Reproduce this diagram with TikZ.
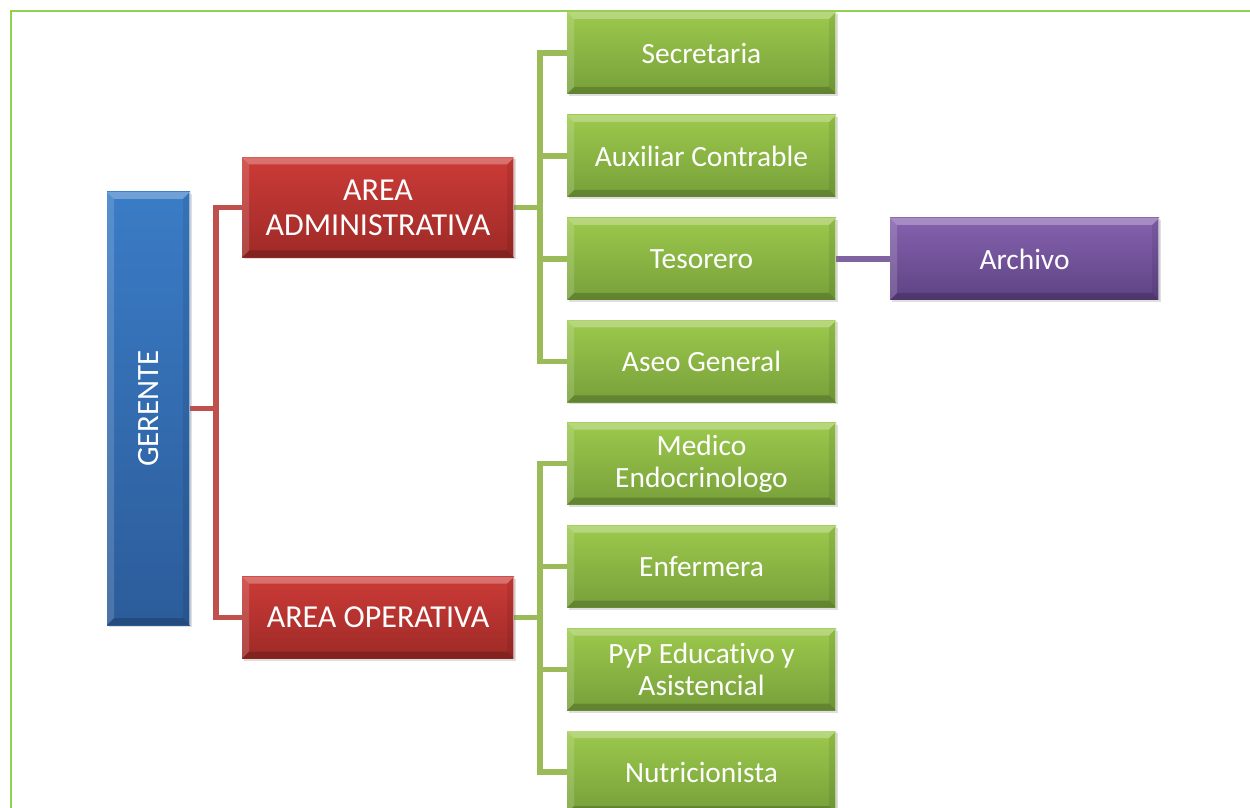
\documentclass[tikz,border=0pt]{standalone}
\usepackage{fontspec}
\setmainfont{Carlito}[Ligatures=NoCommon]
\usetikzlibrary{shadows,backgrounds}
\definecolor{gblue}{HTML}{3A7CC6}
\definecolor{gblueD}{HTML}{2C5C9A}
\definecolor{gred}{HTML}{CC3B37}
\definecolor{gredD}{HTML}{9E2A27}
\definecolor{ggreen}{HTML}{9CC94C}
\definecolor{ggreenD}{HTML}{77A03A}
\definecolor{gpurp}{HTML}{8562AE}
\definecolor{gpurpD}{HTML}{5E4384}
\definecolor{lred}{HTML}{C0504D}
\definecolor{lgreen}{HTML}{9BBB59}
\definecolor{lpurp}{HTML}{8064A2}
\definecolor{frame}{HTML}{92D050}
\tikzset{
  bevel/.style={path picture={
    \fill[white,opacity=0.28] (path picture bounding box.north west) -- (path picture bounding box.north east)
      -- ([xshift=-3.5pt,yshift=-3.5pt]path picture bounding box.north east) -- ([xshift=3.5pt,yshift=-3.5pt]path picture bounding box.north west) -- cycle;
    \fill[white,opacity=0.15] (path picture bounding box.north west) -- ([xshift=3.5pt,yshift=-3.5pt]path picture bounding box.north west)
      -- ([xshift=3.5pt,yshift=3.5pt]path picture bounding box.south west) -- (path picture bounding box.south west) -- cycle;
    \fill[black,opacity=0.18] (path picture bounding box.south west) -- (path picture bounding box.south east)
      -- ([xshift=-3.5pt,yshift=3.5pt]path picture bounding box.south east) -- ([xshift=3.5pt,yshift=3.5pt]path picture bounding box.south west) -- cycle;
    \fill[black,opacity=0.08] (path picture bounding box.north east) -- ([xshift=-3.5pt,yshift=-3.5pt]path picture bounding box.north east)
      -- ([xshift=-3.5pt,yshift=3.5pt]path picture bounding box.south east) -- (path picture bounding box.south east) -- cycle;
    \draw[white,opacity=0.5,line width=0.6pt] ([xshift=-0.4pt]path picture bounding box.north east) -- ([xshift=-0.4pt]path picture bounding box.south east);
  }},
  box/.style={rectangle, inner sep=0pt, align=center, text=white, font=\fontsize{14.7}{16}\selectfont,
    bevel, drop shadow={opacity=0.25, shadow xshift=0.8pt, shadow yshift=-1pt}},
  bluebox/.style={box, top color=gblue, bottom color=gblueD, minimum width=41.5pt, minimum height=216.5pt},
  redbox/.style={box, top color=gred, bottom color=gredD, minimum width=136pt, minimum height=50pt, font=\fontsize{16}{17.5}\selectfont},
  greenbox/.style={box, top color=ggreen, bottom color=ggreenD, minimum width=134.5pt, minimum height=41pt},
  purpbox/.style={box, top color=gpurp, bottom color=gpurpD, minimum width=134.5pt, minimum height=41pt},
  redline/.style={draw=lred, line width=2.6pt},
  greenline/.style={draw=lgreen, line width=2.6pt},
  purpline/.style={draw=lpurp, line width=2.6pt},
}
\begin{document}
\begin{tikzpicture}[x=0.5pt,y=-0.5pt]
\useasboundingbox (0,0) rectangle (1250,808);
\draw[frame, line width=1.1pt] (11,830) -- (11,11) -- (1270,11);

\node[bluebox, label={[rotate=90, text=white, font=\fontsize{15.5}{17}\selectfont]center:GERENTE}] (ger) at (148.5,408.5) {};
\node[redbox] (adm) at (378,207.5) {AREA\\ADMINISTRATIVA};
\node[redbox, minimum height=41pt] (ope) at (378,617.5) {AREA OPERATIVA};

\node[greenbox] (sec) at (701.5,53) {Secretaria};
\node[greenbox] (aux) at (701.5,156) {Auxiliar Contrable};
\node[greenbox] (tes) at (701.5,259) {Tesorero};
\node[greenbox] (ase) at (701.5,361.5) {Aseo General};
\node[greenbox] (med) at (701.5,463.5) {Medico\\Endocrinologo};
\node[greenbox] (enf) at (701.5,566.5) {Enfermera};
\node[greenbox] (pyp) at (701.5,669.5) {PyP Educativo y\\Asistencial};
\node[greenbox] (nut) at (701.5,772) {Nutricionista};
\node[purpbox] (arc) at (1024.5,259) {Archivo};

\coordinate (rj) at (216,408.5);
\coordinate (ga) at (540,207.5);
\coordinate (go) at (540,617.5);

\begin{scope}[on background layer]
  \draw[redline] (ger.east) -- (rj);
  \draw[redline] (adm.west) -| (rj) |- (ope.west);
  \foreach \n in {sec,aux,tes,ase} { \draw[greenline] (adm.east) -| (ga) |- (\n.west); }
  \foreach \n in {med,enf,pyp,nut} { \draw[greenline] (ope.east) -| (go) |- (\n.west); }
  \draw[purpline] (tes.east) -- (arc.west);
\end{scope}
\end{tikzpicture}
\end{document}
